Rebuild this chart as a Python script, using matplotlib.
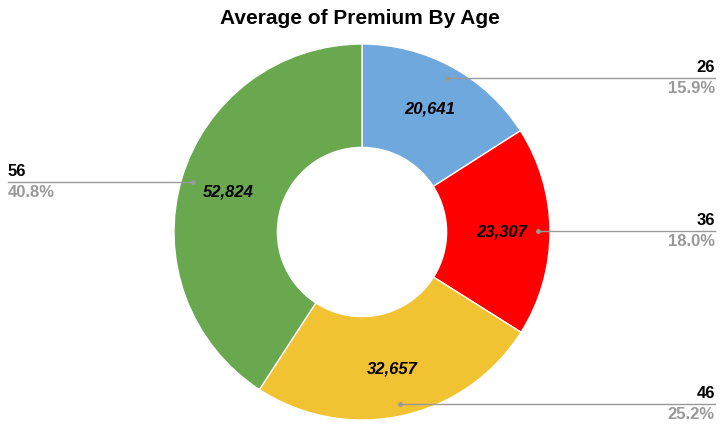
import matplotlib.pyplot as plt
import numpy as np

# --- data ---
ages = ["26", "36", "46", "56"]
premiums = [20641, 23307, 32657, 52824]
colors = ["#6FA8DC", "#FF0000", "#F1C232", "#6AA84F"]

plt.rcParams["font.family"] = "Liberation Sans"

W, H = 720, 445
fig = plt.figure(figsize=(7.2, 4.45), dpi=100)
ax = fig.add_axes([0, 0, 1, 1])
ax.set_xlim(0, W)
ax.set_ylim(0, H)
ax.axis("off")

cx, cy, R = 362, H - 232, 188
wedges, _ = ax.pie(premiums, colors=colors, startangle=90, counterclock=False,
                   radius=R, center=(cx, cy), frame=True,
                   wedgeprops=dict(width=R * 0.55, edgecolor="white", linewidth=1))
ax.set_xlim(0, W)
ax.set_ylim(0, H)
ax.set_aspect("equal")
ax.axis("off")

total = sum(premiums)
for w, age, val in zip(wedges, ages, premiums):
    ang = np.deg2rad((w.theta1 + w.theta2) / 2)
    # value label inside the ring
    tx, ty = cx + 140 * np.cos(ang), cy + 140 * np.sin(ang)
    ax.text(tx, ty, f"{val:,}", ha="center", va="center", fontsize=12,
            fontweight="bold", fontstyle="italic")
    # leader line
    px, py = cx + 176 * np.cos(ang), cy + 176 * np.sin(ang)
    right = np.cos(ang) >= 0
    ex = 715 if right else 8
    ly = py
    ax.plot([px, px + (40 if right else -40), ex], [py, ly, ly], color="#999999", lw=1)
    ax.plot(px, py, "o", color="#999999", ms=2.5)
    ha = "right" if right else "left"
    ax.text(ex, ly + 3, age, ha=ha, va="bottom", fontsize=12, fontweight="bold")
    ax.text(ex, ly - 3, f"{val / total * 100:.1f}%", ha=ha, va="top",
            fontsize=12, fontweight="bold", color="#999999")

ax.text(W / 2, H - 18, "Average of Premium By Age", ha="center", va="center",
        fontsize=15, fontweight="bold")

fig.savefig("out.png", dpi=100)
